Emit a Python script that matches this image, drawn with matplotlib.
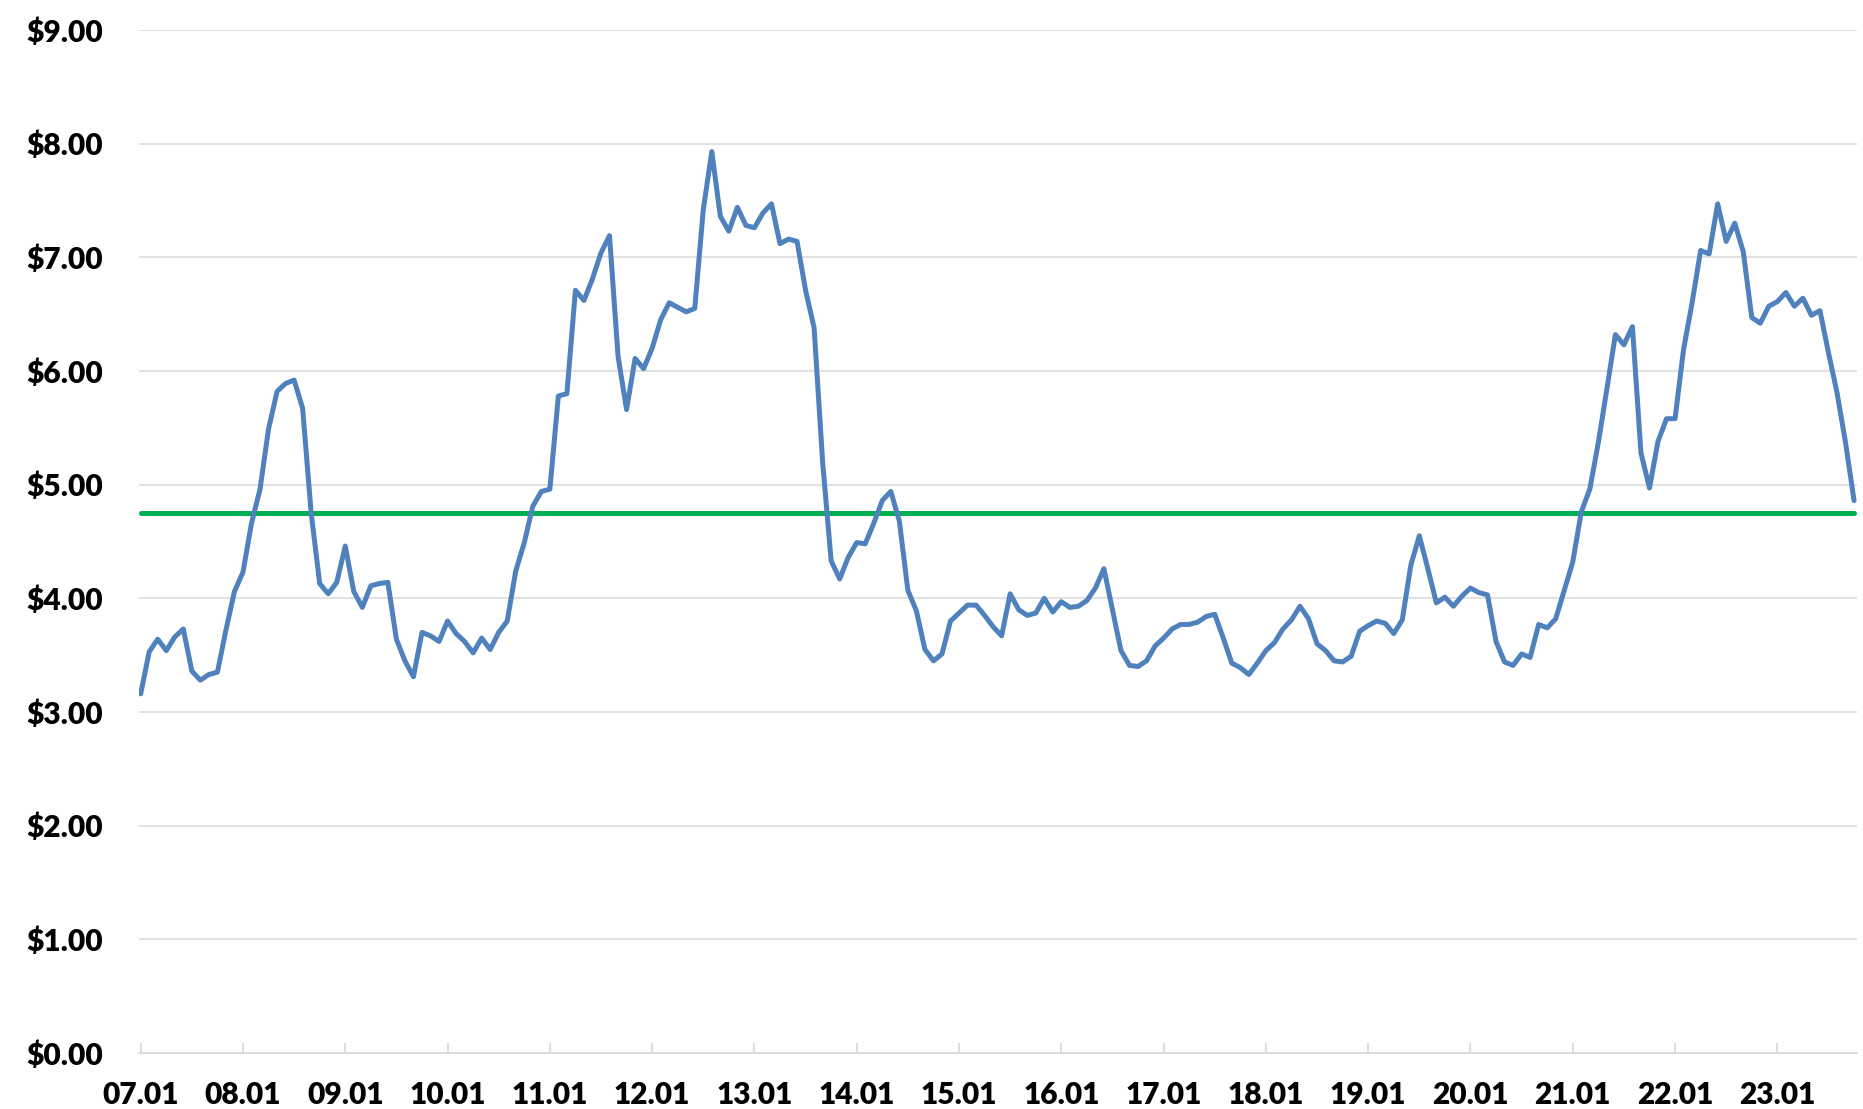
import matplotlib
matplotlib.use("Agg")
import matplotlib.pyplot as plt
import numpy as np

# Monthly price, Jan 2007 .. Oct 2023
prices = [
    3.16, 3.53, 3.64, 3.54, 3.66, 3.73, 3.36, 3.28, 3.33, 3.35, 3.72, 4.06,
    4.23, 4.66, 4.96, 5.49, 5.82, 5.89, 5.92, 5.67, 4.75, 4.13, 4.04, 4.14,
    4.46, 4.06, 3.92, 4.11, 4.13, 4.14, 3.64, 3.45, 3.31, 3.70, 3.67, 3.62,
    3.80, 3.69, 3.62, 3.52, 3.65, 3.55, 3.70, 3.80, 4.24, 4.49, 4.81, 4.94,
    4.96, 5.78, 5.80, 6.71, 6.62, 6.81, 7.04, 7.19, 6.13, 5.66, 6.11, 6.02,
    6.20, 6.45, 6.60, 6.56, 6.52, 6.55, 7.42, 7.93, 7.36, 7.23, 7.44, 7.28,
    7.26, 7.39, 7.47, 7.12, 7.16, 7.14, 6.71, 6.38, 5.20, 4.33, 4.17, 4.36,
    4.49, 4.48, 4.66, 4.86, 4.94, 4.68, 4.07, 3.89, 3.55, 3.45, 3.51, 3.80,
    3.87, 3.94, 3.94, 3.85, 3.75, 3.67, 4.04, 3.90, 3.85, 3.87, 4.00, 3.88,
    3.97, 3.92, 3.93, 3.98, 4.09, 4.26, 3.90, 3.54, 3.41, 3.40, 3.45, 3.58,
    3.65, 3.73, 3.77, 3.77, 3.79, 3.84, 3.86, 3.65, 3.43, 3.39, 3.33, 3.43,
    3.54, 3.61, 3.73, 3.81, 3.93, 3.82, 3.60, 3.54, 3.45, 3.44, 3.49, 3.71,
    3.76, 3.80, 3.78, 3.69, 3.81, 4.29, 4.55, 4.26, 3.96, 4.01, 3.93, 4.02,
    4.09, 4.05, 4.03, 3.62, 3.44, 3.41, 3.51, 3.48, 3.77, 3.74, 3.82, 4.07,
    4.32, 4.76, 4.96, 5.37, 5.84, 6.32, 6.23, 6.39, 5.28, 4.97, 5.38, 5.58,
    5.58, 6.19, 6.60, 7.06, 7.03, 7.47, 7.14, 7.30, 7.05, 6.47, 6.42, 6.57,
    6.61, 6.69, 6.57, 6.64, 6.49, 6.53, 6.16, 5.81, 5.37, 4.86,
]
average_value = 4.75

tick_labels = ["07.01", "08.01", "09.01", "10.01", "11.01", "12.01", "13.01",
               "14.01", "15.01", "16.01", "17.01", "18.01", "19.01", "20.01",
               "21.01", "22.01", "23.01"]
y_ticks = [0, 1, 2, 3, 4, 5, 6, 7, 8, 9]
y_tick_labels = ["$%.2f" % v for v in y_ticks]

x = np.arange(len(prices))
avg = np.full(len(prices), average_value)

fig = plt.figure(figsize=(18.63, 11.09), dpi=100)
ax = fig.add_axes([0.0746, 0.0505, 0.9222, 0.9225])

grid_color = "#D9D9D9"
for v in y_ticks[1:]:
    ax.axhline(v, color=grid_color, linewidth=1.1, zorder=1)

ax.plot(x, avg, color="#00B050", linewidth=3.6, solid_capstyle="round", zorder=2)
ax.plot(x, prices, color="#4F81BD", linewidth=3.6, solid_joinstyle="round",
        solid_capstyle="round", zorder=3)

ax.set_ylim(0, 9)
ax.set_xlim(-0.2, len(prices) - 1 + 0.35)

for s in ["top", "right", "left"]:
    ax.spines[s].set_visible(False)
ax.spines["bottom"].set_color(grid_color)
ax.spines["bottom"].set_linewidth(1.3)

font = dict(family="Lato", weight="heavy", size=21.5)
ax.set_yticks(y_ticks)
ax.set_yticklabels(y_tick_labels, **font)
ax.tick_params(axis="y", length=0, pad=26)

ax.set_xticks(np.arange(0, len(tick_labels) * 12, 12))
ax.set_xticklabels(tick_labels, **font)
ax.tick_params(axis="x", direction="in", length=7, width=1.3, color=grid_color, pad=20)

fig.savefig("out.png", dpi=100)
